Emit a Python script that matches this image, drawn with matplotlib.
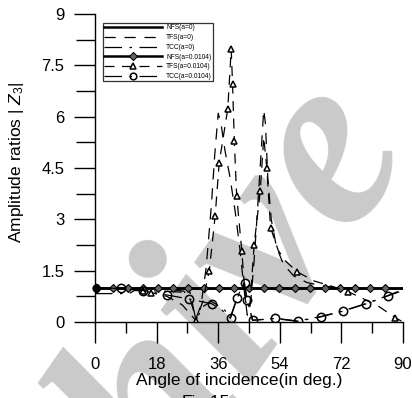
import numpy as np
import matplotlib
matplotlib.use('Agg')
import matplotlib.pyplot as plt
from matplotlib.ticker import MultipleLocator

plt.rcParams['font.family'] = ['Liberation Sans', 'DejaVu Sans']
plt.rcParams['mathtext.fontset'] = 'custom'
plt.rcParams['mathtext.it'] = 'Liberation Sans:italic'
plt.rcParams['mathtext.rm'] = 'Liberation Sans'

# NFS, both cases sit on 1.0
nfs0_x = [0, 90]
nfs0_y = [1.0, 1.0]
nfs1_x = [0.0, 0.7, 5.2, 9.6, 14.1, 18.5, 22.9, 27.3, 31.8, 36.2, 40.6, 45.0,
          49.5, 53.9, 58.3, 62.8, 67.2, 71.6, 76.0, 80.4, 84.8, 90.0]
nfs1_y = [1.0] * len(nfs1_x)

# TFS(a=0)
tfs0_x = [0, 10, 20, 26, 28, 29.5, 31, 32.5, 34, 35, 36, 36.8, 38, 39.5, 41, 42.5,
          43.5, 44.5, 45.5, 46.5, 47.5, 48.5, 49.3, 49.8, 50.5, 51.5, 53, 55, 58,
          62, 67, 72, 80, 90]
tfs0_y = [1.0, 1.0, 0.98, 0.9, 0.6, 0.1, 0.5, 1.6, 3.4, 4.9, 6.1, 5.8, 5.0, 4.2,
          3.2, 2.0, 1.0, 0.2, 0.6, 1.8, 3.3, 4.9, 6.2, 5.8, 4.2, 3.0, 2.2, 1.7,
          1.35, 1.15, 1.05, 1.0, 0.98, 0.96]

# TFS(a=0.0104)
tfs1_x = [0, 7, 14.1, 16.4, 21, 25.5, 29.5, 31.5, 33.4, 35.1, 36.3, 38.8, 39.8,
          40.2, 40.7, 41.4, 42.9, 44.0, 45.2, 46.5, 48.3, 49.3, 50.2, 51.3, 53.5,
          55.5, 59.0, 64, 69, 73.9, 78, 83, 87.7, 90]
tfs1_y = [1.0, 0.98, 0.92, 0.86, 0.75, 0.5, 0.04, 0.6, 1.5, 3.09, 4.66, 6.23,
          7.97, 6.94, 5.3, 3.68, 2.07, 0.6, 0.4, 2.25, 3.84, 5.4, 4.51, 2.76, 2.1,
          1.8, 1.47, 1.2, 1.05, 0.89, 0.7, 0.45, 0.13, 0.0]
tfs1_marks = [0, 2, 3, 6, 8, 9, 10, 11, 12, 13, 14, 15, 16, 19, 20, 22, 23, 26, 29, 32]

# TCC(a=0)
tcc0_x = [0, 10, 11.5, 20, 27.8, 29.5, 31.5, 34, 37.5, 39.5, 41.5, 43.5, 44.5,
          46, 52.6, 59.2, 66, 72.6, 79.2, 85.5, 90]
tcc0_y = [0.83, 0.83, 0.92, 0.9, 0.86, 0.05, 0.45, 0.6, 0.4, 0.13, 0.7, 1.15,
          0.65, 0.05, 0.1, 0.02, 0.15, 0.32, 0.53, 0.76, 0.92]

# TCC(a=0.0104)
tcc1_x = [0, 7.6, 14.1, 21, 27.6, 34.2, 37.3, 39.6, 41.5, 43.7, 44.4, 46.1, 52.6,
          59.2, 66, 72.6, 79.2, 85.5, 90]
tcc1_y = [1.0, 0.98, 0.92, 0.79, 0.67, 0.53, 0.33, 0.11, 0.69, 1.13, 0.64, 0.05,
          0.11, 0.03, 0.16, 0.33, 0.54, 0.77, 0.95]
tcc1_marks = [0, 1, 2, 3, 4, 5, 7, 8, 9, 10, 11, 12, 13, 14, 15, 16, 17]

fig = plt.figure(figsize=(4.12, 3.98), dpi=100)

# watermark behind everything
fig.text(1.02, 0.60, 'Archive', fontsize=180, family='Liberation Serif',
         style='italic', weight='bold', color='#cacaca', rotation=55,
         ha='right', va='baseline', rotation_mode='anchor', zorder=-5)

ax = fig.add_axes([95 / 412, 76 / 398, 308 / 412, 308 / 398])
ax.set_facecolor('none')

long_dash = (9, 7)
tcc_dash = (14, 6, 2, 6)

ax.plot(nfs0_x, nfs0_y, color='k', lw=1.8, label='NFS(a=0)')
ax.plot(tfs0_x, tfs0_y, color='k', lw=0.9, dashes=long_dash, label='TFS(a=0)')
ax.plot(tcc0_x, tcc0_y, color='k', lw=0.9, dashes=tcc_dash, label='TCC(a=0)')
ax.plot(nfs1_x, nfs1_y, color='k', lw=1.8, marker='D', ms=4.5, mfc='#666666',
        mec='k', mew=0.8, markevery=list(range(1, len(nfs1_x) - 1)),
        label='NFS(a=0.0104)')
ax.plot(tfs1_x, tfs1_y, color='k', lw=0.9, dashes=(8, 6), marker='^', ms=5,
        mfc='white', mec='k', mew=1.1, markevery=tfs1_marks, label='TFS(a=0.0104)')
ax.plot(tcc1_x, tcc1_y, color='k', lw=0.9, dashes=tcc_dash, marker='o', ms=6,
        mfc='none', mec='k', mew=1.1, markevery=tcc1_marks, label='TCC(a=0.0104)')
ax.plot([0.3], [1.0], 'o', color='k', ms=5, clip_on=False)

ax.set_xlim(0, 90)
ax.set_ylim(0, 9)
ax.xaxis.set_major_locator(MultipleLocator(18))
ax.xaxis.set_minor_locator(MultipleLocator(9))
ax.yaxis.set_major_locator(MultipleLocator(1.5))
ax.yaxis.set_minor_locator(MultipleLocator(0.75))
ax.set_yticks([0, 1.5, 3, 4.5, 6, 7.5, 9])
ax.set_yticklabels(['0', '1.5', '3', '4.5', '6', '7.5', '9'])
ax.spines['top'].set_visible(False)
ax.spines['right'].set_visible(False)
for s in ['left', 'bottom']:
    ax.spines[s].set_linewidth(1.0)
ax.tick_params(axis='x', which='major', direction='out', length=15, width=1,
               pad=10.5, labelsize=12)
ax.tick_params(axis='x', which='minor', direction='out', length=8, width=1)
ax.tick_params(axis='y', which='major', direction='out', length=15, width=1,
               pad=7, labelsize=12)
ax.tick_params(axis='y', which='minor', direction='out', length=14, width=1)
for lab in ax.get_xticklabels() + ax.get_yticklabels():
    lab.set_clip_on(False)

ax.set_xlabel('Angle of incidence(in deg.)', fontsize=12.5)
ax.xaxis.set_label_coords(0.4675, -0.165)
ax.set_ylabel(r'Amplitude ratios | $Z_3$|', fontsize=12.5)
ax.yaxis.set_label_coords(-0.225, 0.518)

leg = ax.legend(loc='upper left', bbox_to_anchor=(103.3 / 412, 1 - 23.3 / 398),
                bbox_transform=fig.transFigure, fontsize=4.8, numpoints=1,
                handlelength=8.6, handletextpad=0.7, labelspacing=0.42,
                borderpad=0.15, borderaxespad=0, frameon=True, fancybox=False,
                markerscale=0.8)
leg.get_frame().set_edgecolor('k')
leg.get_frame().set_linewidth(0.9)

fig.text(0.5, 0.008, 'Fig.15', fontsize=12.5, ha='center', va='top')

fig.savefig('out.png', dpi=100)
